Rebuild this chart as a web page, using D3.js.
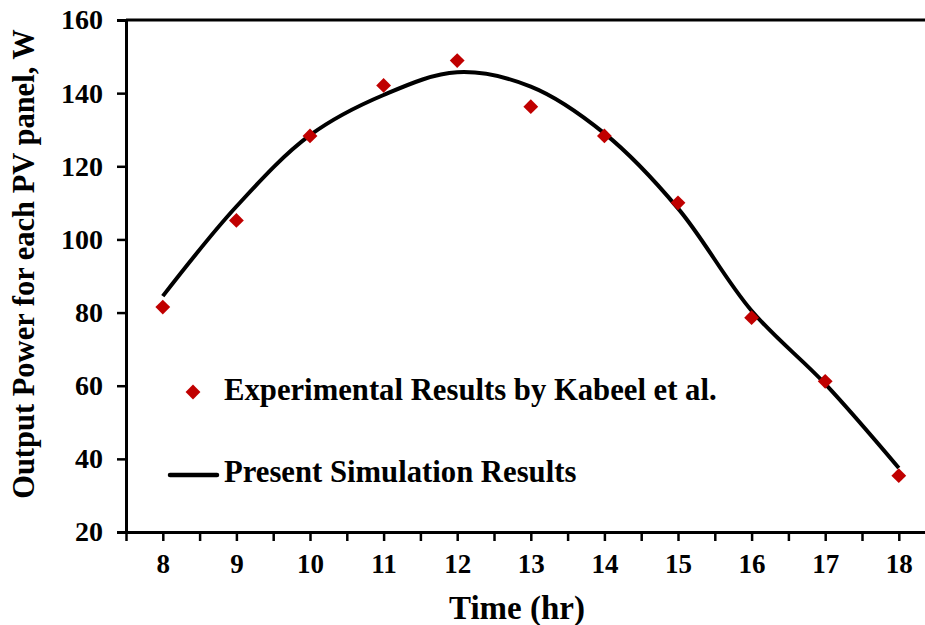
<!DOCTYPE html>
<html>
<head>
<meta charset="utf-8">
<script src="https://cdn.jsdelivr.net/npm/d3@7/dist/d3.min.js"></script>
<style>
  html, body { margin: 0; padding: 0; background: #fff; }
  svg { display: block; font-family: "Liberation Serif", "Times New Roman", serif; font-weight: bold; }
</style>
</head>
<body>
<svg id="chart" width="925" height="625"></svg>
<script>
// Hourly output power of a single PV panel
const hours = [8, 9, 10, 11, 12, 13, 14, 15, 16, 17, 18];
const experimental = [81.5, 105.2, 128.3, 142.1, 148.9, 136.3, 128.3, 110.0, 78.6, 61.2, 35.4];
const simulation = [84.5, 109.0, 128.5, 139.5, 145.7, 141.8, 129.0, 108.5, 80.5, 60.5, 37.5];
const yTicks = [20, 40, 60, 80, 100, 120, 140, 160];
const xTicks = [8, 9, 10, 11, 12, 13, 14, 15, 16, 17, 18];
const xMinorTicks = d3.range(7.5, 18.51, 0.5);

const svg = d3.select("#chart");
const plotLeft = 126, plotTop = 20, plotBottom = 532, hourWidth = 73.6;

const x = d3.scaleLinear().domain([7.5, 18.5]).range([plotLeft, plotLeft + 11 * hourWidth]);
const y = d3.scaleLinear().domain([20, 160]).range([plotBottom, plotTop]);

// frame top edge
svg.append("line")
  .attr("x1", plotLeft).attr("x2", 925)
  .attr("y1", plotTop).attr("y2", plotTop)
  .attr("stroke", "#000").attr("stroke-width", 3);

// y axis
const yAxis = svg.append("g")
  .attr("transform", `translate(${plotLeft},0)`)
  .call(d3.axisLeft(y).tickValues(yTicks).tickSize(9).tickPadding(14).tickFormat(d3.format("d")));
yAxis.select(".domain").attr("stroke-width", 3);
yAxis.selectAll(".tick line").attr("stroke-width", 2.5);
yAxis.selectAll(".tick text")
  .attr("font-size", 28).attr("font-weight", "bold")
  .attr("font-family", "Liberation Serif, serif").attr("fill", "#000");

// x axis: minor half-hour ticks plus labelled hour ticks
const xAxisMinor = svg.append("g")
  .attr("transform", `translate(0,${plotBottom})`)
  .call(d3.axisBottom(x).tickValues(xMinorTicks).tickSize(9).tickFormat(""));
xAxisMinor.select(".domain").attr("stroke-width", 3).attr("d", `M${plotLeft},0.5H925`);
xAxisMinor.selectAll(".tick line").attr("stroke-width", 2.5);

const xAxis = svg.append("g")
  .attr("transform", `translate(0,${plotBottom})`)
  .call(d3.axisBottom(x).tickValues(xTicks).tickSize(0).tickPadding(22).tickFormat(d3.format("d")));
xAxis.select(".domain").remove();
xAxis.selectAll(".tick text")
  .attr("font-size", 27).attr("font-weight", "bold")
  .attr("font-family", "Liberation Serif, serif").attr("fill", "#000");

// axis titles
svg.append("text")
  .attr("x", 517).attr("y", 619)
  .attr("text-anchor", "middle")
  .attr("font-size", 33)
  .text("Time (hr)");

svg.append("text")
  .attr("transform", "translate(34,264) rotate(-90)")
  .attr("text-anchor", "middle")
  .attr("font-size", 30.5)
  .text("Output Power for each PV panel, W");

// simulation curve
const line = d3.line()
  .x((d, i) => x(hours[i]))
  .y(d => y(d))
  .curve(d3.curveCatmullRom.alpha(0.5));

svg.append("path")
  .datum(simulation)
  .attr("d", line)
  .attr("fill", "none")
  .attr("stroke", "#000")
  .attr("stroke-width", 4);

// experimental points
const diamond = d3.symbol().type(d3.symbolDiamond2).size(140);
svg.append("g").selectAll("path")
  .data(experimental)
  .join("path")
  .attr("transform", (d, i) => `translate(${x(hours[i])},${y(d)})`)
  .attr("d", diamond)
  .attr("fill", "#C00000");

// legend
const legend = svg.append("g");
legend.append("path")
  .attr("transform", "translate(193,392)")
  .attr("d", diamond)
  .attr("fill", "#C00000");
legend.append("text")
  .attr("x", 224).attr("y", 400)
  .attr("font-size", 30.7)
  .text("Experimental Results by Kabeel et al.");
legend.append("line")
  .attr("x1", 170).attr("x2", 217)
  .attr("y1", 475).attr("y2", 475)
  .attr("stroke", "#000").attr("stroke-width", 4.5).attr("stroke-linecap", "round");
legend.append("text")
  .attr("x", 224).attr("y", 482)
  .attr("font-size", 30.7)
  .text("Present Simulation Results");
</script>
</body>
</html>
